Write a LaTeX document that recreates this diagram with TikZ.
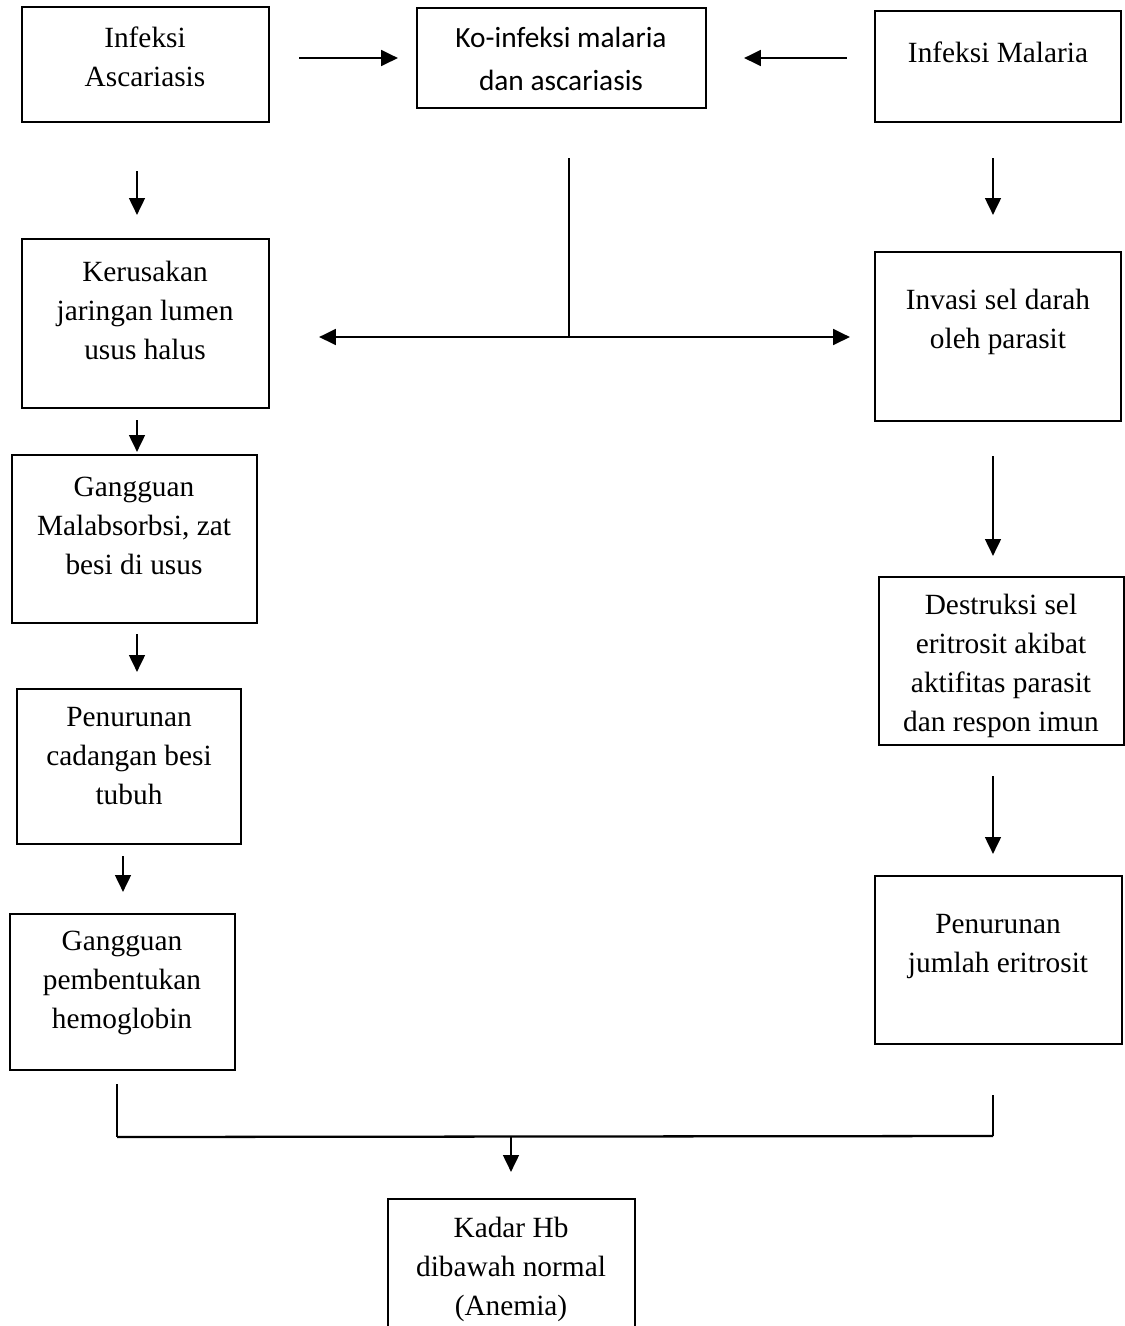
\documentclass[tikz,border=0pt]{standalone}
\usepackage{fontspec}
\setmainfont{Liberation Serif}
\newfontfamily\calibfont{Carlito}
\usetikzlibrary{arrows.meta,calc}
\begin{document}
\begin{tikzpicture}[x=0.02cm,y=-0.02cm,
  box/.style={draw,line width=1.3pt,inner sep=0pt,rectangle},
  txt/.style={inner sep=0pt,align=center,font=\fontsize{16.7pt}{22.2pt}\selectfont},
  stxt/.style={inner sep=0pt,align=center,font=\calibfont\fontsize{16.7pt}{24.5pt}\selectfont},
  tip/.style={-{Triangle[length=9.5pt,width=9pt]}},
  arrthick/.style={tip,line width=1.3pt},
  arrthin/.style={tip,line width=0.9pt},
  plainline/.style={line width=0.9pt},
  boldline/.style={line width=1.3pt}
]
\useasboundingbox (0,0) rectangle (1125,1326);
\clip (0,0) rectangle (1125,1326);

% boxes
\node[box,minimum width=4.94cm,minimum height=2.30cm] (b1) at (145.5,64.5) {};
\node[box,minimum width=5.78cm,minimum height=2.00cm] (b2) at (561.5,58) {};
\node[box,minimum width=4.92cm,minimum height=2.22cm] (b3) at (998,66.5) {};
\node[box,minimum width=4.94cm,minimum height=3.38cm] (b4) at (145.5,323.5) {};
\node[box,minimum width=4.90cm,minimum height=3.36cm] (b5) at (134.5,539) {};
\node[box,minimum width=4.48cm,minimum height=3.10cm] (b6) at (129,766.5) {};
\node[box,minimum width=4.50cm,minimum height=3.12cm] (b7) at (122.5,992) {};
\node[box,minimum width=4.92cm,minimum height=3.38cm] (r2) at (998,336.5) {};
\node[box,minimum width=4.90cm,minimum height=3.36cm] (r3) at (1001.5,661) {};
\node[box,minimum width=4.94cm,minimum height=3.36cm] (r4) at (998.5,960) {};
\node[box,minimum width=4.94cm,minimum height=2.82cm] (bt) at (511.5,1269.5) {};

% texts
\node[txt] (t1) at (145,57) {Infeksi\\Ascariasis};
\node[stxt] (t2) at (561,59) {Ko-infeksi malaria\\dan ascariasis};
\node[txt] (t3) at (998,52) {Infeksi Malaria};
\node[txt] (t4) at (145,310) {Kerusakan\\jaringan lumen\\usus halus};
\node[txt] (t5) at (134,526) {Gangguan\\Malabsorbsi, zat\\besi di usus};
\node[txt] (t6) at (129,756) {Penurunan\\cadangan besi\\tubuh};
\node[txt] (t7) at (122,983) {Gangguan\\pembentukan\\hemoglobin};
\node[txt] (tr2) at (998,322) {Invasi sel darah\\oleh parasit};
\node[txt] (tr3) at (1001,665.5) {Destruksi sel\\eritrosit akibat\\aktifitas parasit\\dan respon imun};
\node[txt] (tr4) at (998,947) {Penurunan\\jumlah eritrosit};
\node[txt] (tbt) at (511,1269) {Kadar Hb\\dibawah normal\\(Anemia)};

% column coordinates
\coordinate (xa) at (137,0);
\coordinate (xb) at (123,0);
\coordinate (xr) at (993,0);
\coordinate (xc) at (569,0);
\coordinate (j) at (569,337);
\coordinate (jl) at (117,1137);
\coordinate (jr) at (993,1136);
\coordinate (jm) at (511,1137);

% top horizontal arrows
\draw[arrthick,shorten <=0.58cm,shorten >=0.36cm] (b1.east |- b2.west) -- (b2.west);
\draw[arrthick,shorten <=0.54cm,shorten >=0.74cm] (b3.west |- b2.east) -- (b2.east);

% down arrows from top row
\draw[arrthin,shorten <=0.96cm,shorten >=0.46cm] (b1.south -| xa) -- (b4.north -| xa);
\draw[arrthin,shorten <=0.70cm,shorten >=0.72cm] (b3.south -| xr) -- (r2.north -| xr);

% central split
\draw[plainline,shorten <=0.98cm] (b2.south -| xc) -- (j);
\draw[arrthick,shorten >=0.98cm] (j) -- (j -| b4.east);
\draw[arrthick,shorten >=0.48cm] (j) -- (j -| r2.west);

% left column
\draw[arrthin,shorten <=0.22cm,shorten >=0.04cm] (b4.south -| xa) -- (b5.north -| xa);
\draw[arrthin,shorten <=0.20cm,shorten >=0.32cm] (b5.south -| xa) -- (b6.north -| xa);
\draw[arrthin,shorten <=0.22cm,shorten >=0.42cm] (b6.south -| xb) -- (b7.north -| xb);

% right column
\draw[arrthin,shorten <=0.68cm,shorten >=0.40cm] (r2.south -| xr) -- (r3.north -| xr);
\draw[arrthin,shorten <=0.60cm,shorten >=0.42cm] (r3.south -| xr) -- (r4.north -| xr);

% bottom join
\draw[plainline,shorten <=0.26cm] (b7.south -| jl) -- (jl);
\draw[plainline,shorten <=1.00cm] (r4.south -| jr) -- (jr);
\draw[boldline] (jl) -- (jr);
\draw[arrthin,shorten >=0.52cm] (jm) -- (bt.north -| jm);
\end{tikzpicture}
\end{document}
